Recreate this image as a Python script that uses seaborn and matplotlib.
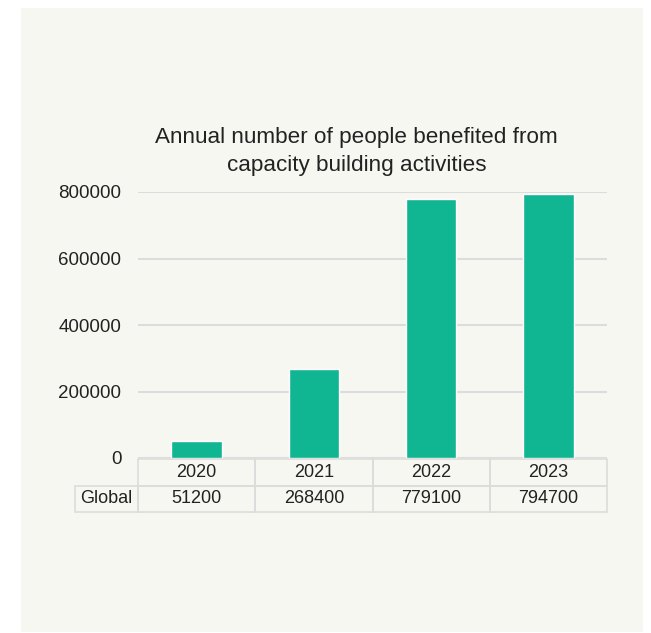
import pandas as pd
import numpy as np
import matplotlib.pyplot as plt
import seaborn as sns
from matplotlib.patches import Rectangle

# data
years = ["2020", "2021", "2022", "2023"]
people = [51200, 268400, 779100, 794700]
row_label = "Global"
y_ticks = [0, 200000, 400000, 600000, 800000]

bar_color = "#10b592"
panel_color = "#f7f7f2"
grid_color = "#dcdcdc"
text_color = "#222222"

sns.set_theme(style="whitegrid")
plt.rcParams["font.family"] = ["Liberation Sans", "DejaVu Sans"]

df = pd.DataFrame({"year": years, "people": people})

fig = plt.figure(figsize=(6.51, 6.33), dpi=100, facecolor="white")
# light panel behind the whole chart
fig.patches.append(Rectangle((21 / 651, 1 / 633), 622 / 651, 624 / 633,
                             transform=fig.transFigure, facecolor=panel_color,
                             edgecolor="none", zorder=-5))

ax = fig.add_axes([138 / 651, 175 / 633, 469 / 651, 266 / 633])
ax.set_facecolor("none")
ax.set_zorder(2)

sns.barplot(data=df, x="year", y="people", color=bar_color, width=0.43,
            saturation=1, ax=ax, zorder=2)

ax.set_ylim(0, 800000)
ax.set_xlim(-0.5, 3.5)
ax.set_yticks(y_ticks)
ax.set_yticklabels([str(t) for t in y_ticks], fontsize=13.5, color=text_color)
ax.tick_params(axis="y", length=0, pad=12)
ax.set_xticks([])
ax.set_xlabel("")
ax.set_ylabel("")
ax.grid(axis="y", color=grid_color, linewidth=1.5)
ax.grid(axis="x", visible=False)
for s in ax.spines.values():
    s.set_visible(False)

# data table under the bars
cells = [[""] + years, [row_label] + [str(v) for v in people]]
left = (75 - 138) / 469
tbl = ax.table(cellText=cells, cellLoc="center",
               colWidths=[63] + [117] * 4,
               bbox=[left, -54 / 266, 1 - left, 53 / 266])
tbl.auto_set_font_size(False)
tbl.set_fontsize(13)
for (r, c), cell in tbl.get_celld().items():
    cell.set_edgecolor(grid_color)
    cell.set_linewidth(1.2)
    cell.set_facecolor("none")
    cell.get_text().set_color(text_color)
    if r == 0 and c == 0:
        cell.set_edgecolor("none")
        cell.visible_edges = ""

fig.text(356 / 651, 1 - 138 / 633, "Annual number of people benefited from",
         ha="center", va="center", fontsize=16.2, color=text_color)
fig.text(357 / 651, 1 - 165 / 633, "capacity building activities",
         ha="center", va="center", fontsize=16.2, color=text_color)

fig.savefig("out.png", dpi=100, facecolor="white")
